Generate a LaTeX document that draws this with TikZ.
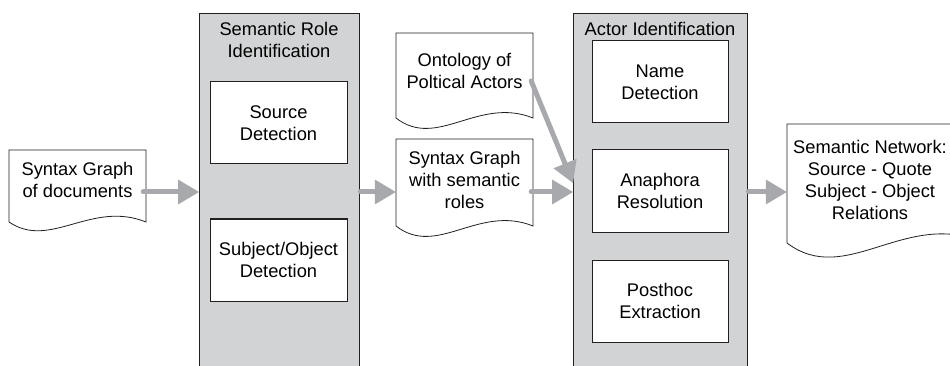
\documentclass[tikz,border=0pt]{standalone}
\usepackage{fontspec}
\setmainfont{Liberation Sans}
\usetikzlibrary{arrows.meta,calc}
\definecolor{panel}{HTML}{D1D3D4}
\definecolor{edgec}{HTML}{231F20}
\definecolor{flowc}{HTML}{A7A9AC}
% x0, top, x1, bottom(left), dip, rise
\newcommand{\docpath}[6]{%
  \draw[docline] (#1,#4) -- (#1,#2) -- (#3,#2) -- (#3,#4)
    .. controls ({#1+0.6*(#3-#1)},{#4-#6}) and ({#1+0.3*(#3-#1)},{#4+#5}) .. (#1,#4) -- cycle;}
\begin{document}
\begin{tikzpicture}[x=1pt,y=-1pt,
  txt/.style={font=\fontsize{18.3}{22}\selectfont, align=center, text=black, inner sep=0pt},
  panelbox/.style={draw=edgec, line width=1.4pt, fill=panel, inner sep=0pt, anchor=north west, minimum height=370pt},
  stepbox/.style={txt, draw=edgec, line width=1pt, fill=white, minimum width=137pt, minimum height=82pt},
  docline/.style={draw=edgec, line width=0.8pt, fill=white},
  flow/.style={draw=flowc, line width=5pt, line cap=round,
    -{Triangle[length=21pt,width=25pt,line width=0pt,fill=flowc]}}]
\useasboundingbox (0,0) rectangle (950,366);
\clip (0,0) rectangle (950,366);
\coordinate (row) at (0,192);

% containers
\node[panelbox, minimum width=160pt] (srl) at (199,13) {};
\node[txt] (srlt) at (279,40) {Semantic Role\\Identification};
\node[stepbox] (src) at (278.5,123) {Source\\Detection};
\node[stepbox] (subj) at (278.5,260) {Subject/Object\\Detection};

\node[panelbox, minimum width=174pt] (ai) at (573,13) {};
\node[txt] (ait) at (660,29) {Actor Identification};
\node[stepbox, minimum width=136pt] (name) at (660,82) {Name\\Detection};
\node[stepbox, minimum width=136pt] (ana) at (660,191) {Anaphora\\Resolution};
\node[stepbox, minimum width=136pt] (post) at (660,301) {Posthoc\\Extraction};

% documents
\docpath{9}{150}{146}{222}{28}{22}
\node[txt, minimum width=137pt] (d1) at (77.5,180) {Syntax Graph\\of documents};
\docpath{396}{33}{533}{118}{32}{22}
\node[txt, minimum width=137pt] (ont) at (464.5,71) {Ontology of\\Poltical Actors};
\docpath{396}{139}{533}{226}{32}{22}
\node[txt, minimum width=137pt] (syn) at (464.5,180) {Syntax Graph\\with semantic\\roles};
\docpath{787}{124}{985}{243}{45}{35}
\node[txt, minimum width=166pt] (sem) at (870,180) {Semantic Network:\\Source - Quote\\Subject - Object\\Relations};

% flows
\draw[flow] ([xshift=-3pt]d1.east |- row) -- (srl.west |- row);
\draw[flow] (srl.east |- row) -- (syn.west |- row);
\draw[flow] ([xshift=-2pt]syn.east |- row) -- (ai.west |- row);
\draw[flow] ([shift={(-2,10)}]ont.east) -- ([yshift=9pt]ai.west |- row);
\draw[flow] (ai.east |- row) -- (sem.west |- row);
\end{tikzpicture}
\end{document}
